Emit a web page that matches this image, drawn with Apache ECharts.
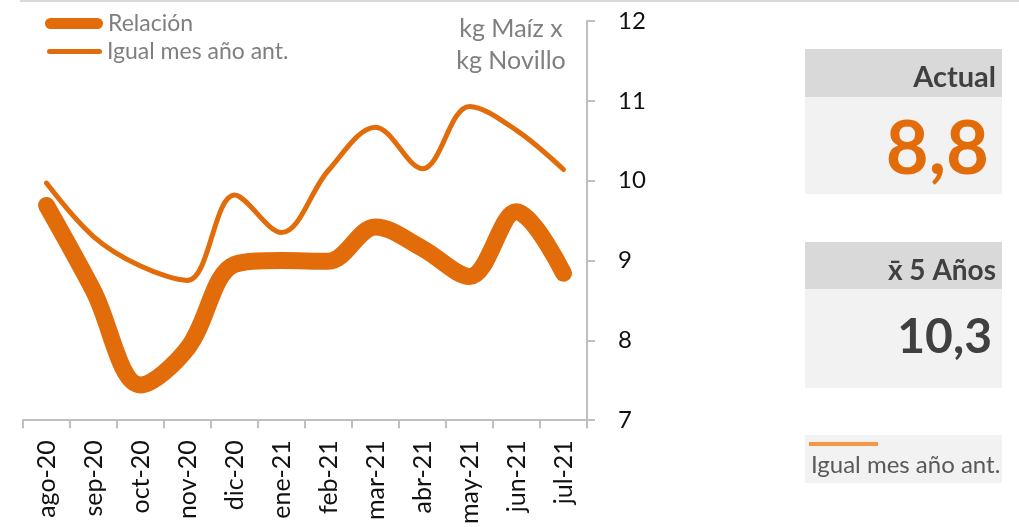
<!DOCTYPE html>
<html>
<head>
<meta charset="utf-8">
<script src="https://cdn.jsdelivr.net/npm/echarts@6/dist/echarts.min.js"></script>
<style>
  html, body { margin: 0; padding: 0; background: #fff; }
  #chart { width: 1019px; height: 527px; }
</style>
</head>
<body>
<div id="chart"></div>
<script>
const months = ['ago-20', 'sep-20', 'oct-20', 'nov-20', 'dic-20', 'ene-21', 'feb-21', 'mar-21', 'abr-21', 'may-21', 'jun-21', 'jul-21']
const relacion = [9.69, 8.62, 7.44, 7.9, 8.95, 9.0, 8.99, 9.42, 9.15, 8.8, 9.61, 8.84]
const igualMes = [9.97, 9.3, 8.93, 8.75, 9.82, 9.35, 10.13, 10.67, 10.15, 10.93, 10.63, 10.14]
const yTicks = [7, 8, 9, 10, 11, 12]
const actual = '8,8'
const promedio5 = '10,3'

const orange = '#E36C0A'
const font = 'Lato, "Open Sans", sans-serif'

// pill-shaped legend icons, one thick and one thin
const thickIcon = 'path://M5.5,0H52.5A5.5,5.5,0,0,1,52.5,11H5.5A5.5,5.5,0,0,1,5.5,0Z'
const thinIcon = 'path://M2.5,0H52.5A2.5,2.5,0,0,1,52.5,5H2.5A2.5,2.5,0,0,1,2.5,0Z'

const chart = echarts.init(document.getElementById('chart'))

chart.setOption({
  animation: false,
  textStyle: { fontFamily: font },
  grid: { left: 23, right: 432, top: 21, bottom: 106 },
  legend: [
    {
      left: 45,
      top: 12,
      padding: 0,
      itemWidth: 58,
      itemHeight: 11,
      icon: thickIcon,
      textStyle: { fontSize: 23, color: '#7f7f7f', fontFamily: font },
      data: ['Relación']
    },
    {
      left: 47,
      top: 40,
      padding: 0,
      itemWidth: 55,
      itemHeight: 5,
      icon: thinIcon,
      textStyle: { fontSize: 23, color: '#7f7f7f', fontFamily: font },
      data: ['Igual mes año ant.']
    }
  ],
  xAxis: {
    type: 'category',
    data: months,
    boundaryGap: true,
    axisLine: { lineStyle: { color: '#bfbfbf', width: 2 } },
    axisTick: { show: true, interval: 0, length: 8, lineStyle: { color: '#bfbfbf', width: 2 } },
    axisLabel: { interval: 0, rotate: 90, fontSize: 25, color: '#111', margin: 20, fontFamily: font }
  },
  yAxis: {
    type: 'value',
    position: 'right',
    min: yTicks[0],
    max: yTicks[yTicks.length - 1],
    interval: 1,
    axisLine: { show: true, lineStyle: { color: '#bfbfbf', width: 2 } },
    axisTick: { show: true, length: 8, lineStyle: { color: '#bfbfbf', width: 2 } },
    axisLabel: { fontSize: 24, color: '#111', margin: 31, fontFamily: font },
    splitLine: { show: false }
  },
  series: [
    {
      name: 'Relación',
      type: 'line',
      data: relacion,
      smooth: 0.35,
      symbol: 'none',
      lineStyle: { color: orange, width: 17, cap: 'round', join: 'round' },
      itemStyle: { color: orange },
      z: 3
    },
    {
      name: 'Igual mes año ant.',
      type: 'line',
      data: igualMes,
      smooth: 0.35,
      symbol: 'none',
      lineStyle: { color: orange, width: 5, cap: 'round', join: 'round' },
      itemStyle: { color: orange },
      z: 2
    }
  ],
  graphic: [
    { type: 'line', shape: { x1: 20, y1: 1, x2: 1019, y2: 1 }, style: { stroke: '#d9d9d9', lineWidth: 2 } },
    { type: 'text', x: 511, y: 29, style: { text: 'kg Maíz x', fill: '#7f7f7f', font: '25px ' + font, textAlign: 'center', textVerticalAlign: 'middle' } },
    { type: 'text', x: 511, y: 61, style: { text: 'kg Novillo', fill: '#7f7f7f', font: '25px ' + font, textAlign: 'center', textVerticalAlign: 'middle' } },

    { type: 'rect', shape: { x: 805, y: 49, width: 197, height: 48 }, style: { fill: '#d9d9d9' } },
    { type: 'rect', shape: { x: 805, y: 97, width: 197, height: 97 }, style: { fill: '#f2f2f2' } },
    { type: 'text', x: 996, y: 78, style: { text: 'Actual', fill: '#404040', font: 'bold 29px ' + font, textAlign: 'right', textVerticalAlign: 'middle' } },
    { type: 'text', x: 989, y: 113, style: { text: actual, fill: orange, font: 'bold 74px ' + font, textAlign: 'right' } },

    { type: 'rect', shape: { x: 805, y: 242, width: 197, height: 47 }, style: { fill: '#d9d9d9' } },
    { type: 'rect', shape: { x: 805, y: 289, width: 197, height: 99 }, style: { fill: '#f2f2f2' } },
    { type: 'text', x: 996, y: 271, style: { text: 'x̄ 5 Años', fill: '#404040', font: 'bold 28px ' + font, textAlign: 'right', textVerticalAlign: 'middle' } },
    { type: 'text', x: 992, y: 338, style: { text: promedio5, fill: '#404040', font: 'bold 48px ' + font, textAlign: 'right', textVerticalAlign: 'middle' } },

    { type: 'rect', shape: { x: 805, y: 435, width: 197, height: 48 }, style: { fill: '#f2f2f2' } },
    { type: 'line', shape: { x1: 809, y1: 444, x2: 878, y2: 444 }, style: { stroke: '#F79646', lineWidth: 4 } },
    { type: 'text', x: 811, y: 465, style: { text: 'Igual mes año ant.', fill: '#595959', font: '24px ' + font, textVerticalAlign: 'middle' } }
  ]
})
</script>
</body>
</html>
